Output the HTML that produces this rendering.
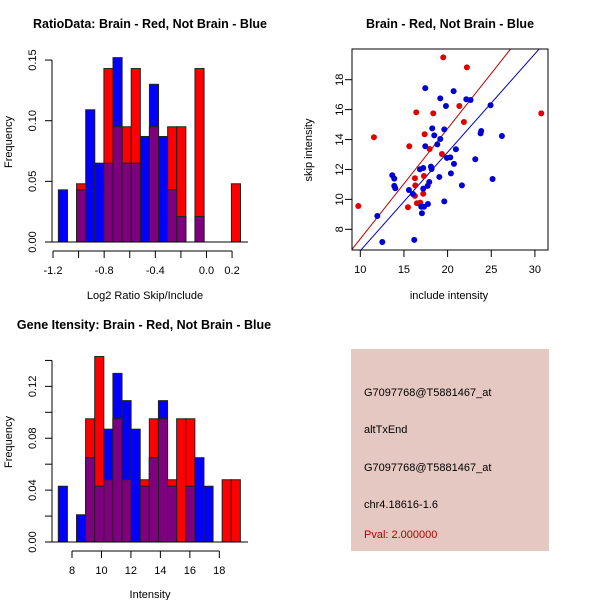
<!DOCTYPE html>
<html><head><meta charset="utf-8"><style>
body{margin:0;background:#fff}
svg{display:block;font-family:"Liberation Sans",Arial,sans-serif}
</style></head><body>
<svg id="c" width="600" height="600" xmlns="http://www.w3.org/2000/svg">
<rect width="600" height="600" fill="#fff"/>
<text x="150" y="28" font-size="12.5" font-weight="bold" text-anchor="middle">RatioData: Brain - Red, Not Brain - Blue</text>
<text x="450" y="28" font-size="12.5" font-weight="bold" text-anchor="middle">Brain - Red, Not Brain - Blue</text>
<text x="144" y="329" font-size="12.5" font-weight="bold" text-anchor="middle">Gene Itensity: Brain - Red, Not Brain - Blue</text>
<text x="145" y="299" font-size="11" text-anchor="middle">Log2 Ratio Skip/Include</text>
<text x="150" y="598" font-size="11" text-anchor="middle">Intensity</text>
<text x="449" y="299" font-size="11" text-anchor="middle">include intensity</text>
<text transform="translate(12,142) rotate(-90)" font-size="11" text-anchor="middle">Frequency</text>
<text transform="translate(12,442) rotate(-90)" font-size="11" text-anchor="middle">Frequency</text>
<text transform="translate(312,150) rotate(-90)" font-size="11" text-anchor="middle">skip intensity</text>
<g>
<rect x="351" y="349" width="198" height="202" fill="#E6C8C2"/>
<text x="364" y="396" font-size="11">G7097768@T5881467_at</text>
<text x="364" y="433" font-size="11">altTxEnd</text>
<text x="364" y="471" font-size="11">G7097768@T5881467_at</text>
<text x="364" y="508" font-size="11">chr4.18616-1.6</text>
<text x="364" y="538" font-size="11" fill="#B00000">Pval: 2.000000</text>
</g>
</svg>
<script>
// Ratio histogram data
const ratioBinStart = -1.158;
const ratioBinWidth = 0.0712;
const ratioRed  = [0,0,0.048,0,0,0.143,0.095,0.095,0.143,0,0.095,0,0.095,0.095,0,0.143,0,0,0,0.048];
const ratioBlue = [0.043,0,0.043,0.109,0.065,0.065,0.152,0.065,0.065,0.087,0.130,0.087,0.043,0.021,0,0.021,0,0,0,0];
const ratioXTicks = [-1.2,-1.0,-0.8,-0.6,-0.4,-0.2,0.0,0.2];
const ratioXLabels = ["-1.2","","-0.8","","-0.4","","0.0","0.2"];
const ratioYTicks = [0,0.05,0.10,0.15];
const ratioYLabels = ["0.00","0.05","0.10","0.15"];
// Intensity histogram data
const intBinStart = 7.07;
const intBinWidth = 0.618;
const intRed  = [0,0,0,0.095,0.143,0.048,0.095,0.048,0,0.048,0.095,0.095,0.048,0.095,0.095,0,0,0,0.048,0.048];
const intBlue = [0.043,0,0.021,0.065,0.043,0.087,0.130,0.109,0.087,0.043,0.065,0.109,0.043,0,0.043,0.065,0.043,0,0,0];
const intXTicks = [8,10,12,14,16,18];
const intYTicks = [0,0.02,0.04,0.06,0.08,0.10,0.12,0.14];
const intYLabels = ["0.00","","0.04","","0.08","","0.12",""];
// Scatter data
const redX = [9.77,11.56,16.41,17.37,15.61,17.94,18.36,19.50,22.21,21.34,21.87,19.35,16.30,16.26,17.29,17.21,16.49,16.87,15.46,30.73,16.26];
const redY = [9.56,14.15,15.82,14.35,13.55,13.37,15.75,19.49,18.82,16.24,15.17,13.03,10.94,11.41,11.56,10.38,9.74,9.78,9.47,15.75,10.23];
const blueX = [11.95,12.52,16.18,17.44,20.69,19.16,19.81,22.14,22.63,24.92,26.22,23.78,23.85,18.24,19.62,18.47,19.16,18.82,17.44,20.95,20.31,19.92,23.17,20.73,20.38,19.05,18.09,18.17,17.21,16.83,13.66,13.89,13.89,14.01,15.57,16.03,17.21,17.90,17.71,25.15,21.64,19.62,17.75,16.98,17.29,17.06];
const blueY = [8.89,7.15,7.29,17.44,17.24,16.75,16.24,16.69,16.64,16.29,14.24,14.41,14.57,14.75,14.68,14.28,14.04,13.68,13.55,13.35,12.81,12.77,12.68,12.37,11.74,11.50,12.19,12.03,12.10,12.01,11.61,11.39,10.90,10.74,10.63,10.36,10.72,11.16,10.90,11.36,10.94,9.87,9.69,9.51,9.51,9.07];
const redLine = [-0.01,0.737];
const blueLine = [-0.01,0.658];
const scXTicks = [10,15,20,25,30];
const scYTicks = [8,10,12,14,16,18];

const NS="http://www.w3.org/2000/svg";
const svg=document.getElementById('c');
function mk(tag,attrs,parent){const e=document.createElementNS(NS,tag);for(const k in attrs)e.setAttribute(k,attrs[k]);(parent||svg).appendChild(e);return e;}

function hist(opts){
  const g=mk('g',{});
  
  
  const X=v=>opts.x0px+(v-opts.x0)*opts.xs;
  const Y=v=>opts.base-v*opts.ys;
  const draw=(vals,col,nm)=>{vals.forEach((v,i)=>{if(v<=0)return;
    const a=X(opts.start+i*opts.w),b=X(opts.start+(i+1)*opts.w);
    const r=mk('rect',{x:a,y:Y(v),width:b-a,height:Y(0)-Y(v),fill:col,stroke:'#222','stroke-width':1},g);
    
    
  });};
  draw(opts.blue,'#0000FF','blue');
  draw(opts.red,'#FF0000','red');
  draw(opts.blue.map((b,i)=>Math.min(b,opts.red[i])),'#7F007F','overlap');
  const ax=mk('g',{stroke:'#000','stroke-width':1,fill:'none'},g);
  
  
  const xt=opts.xticks;
  mk('line',{x1:X(xt[0]),x2:X(xt[xt.length-1]),y1:opts.axY,y2:opts.axY},ax);
  xt.forEach((t,i)=>{mk('line',{x1:X(t),x2:X(t),y1:opts.axY,y2:opts.axY+7},ax);
    const lab=opts.xlabels[i]; if(lab){const tx=mk('text',{x:X(t),y:opts.axY+23,'font-size':11,'text-anchor':'middle',stroke:'none',fill:'#000'},g);tx.textContent=lab;
    
    }});
  const ay=mk('g',{stroke:'#000','stroke-width':1},g);
  
  
  const yt=opts.yticks;
  mk('line',{x1:52,x2:52,y1:Y(yt[0]),y2:Y(yt[yt.length-1])},ay);
  yt.forEach((t,i)=>{mk('line',{x1:45,x2:52,y1:Y(t),y2:Y(t)},ay);
    const lab=opts.ylabels[i]; if(lab){const tx=mk('text',{transform:`translate(36,${Y(t)}) rotate(-90)`,'font-size':11,'text-anchor':'middle'},g);tx.textContent=lab;
    
    }});
  mk('line',{x1:51,x2:248,y1:opts.base,y2:opts.base,stroke:'#000'},g);
}
hist({name:'ratio-histogram',x0:-1.2,x0px:53,xs:127.9,base:242,ys:1213,start:ratioBinStart,w:ratioBinWidth,red:ratioRed,blue:ratioBlue,
  xticks:ratioXTicks,xlabels:ratioXLabels,yticks:ratioYTicks,ylabels:ratioYLabels,axY:251});
hist({name:'intensity-histogram',x0:8,x0px:72,xs:14.73,base:542,ys:1297,start:intBinStart,w:intBinWidth,red:intRed,blue:intBlue,
  xticks:intXTicks,xlabels:intXTicks.map(String),yticks:intYTicks,ylabels:intYLabels,axY:551});

(function(){
  const g=mk('g',{});
  
  
  const L=352,R=548,T=49,B=250;
  const X=v=>360.3+(v-10)*8.73, Y=v=>229.3-(v-8)*14.96;
  const cp=mk('clipPath',{id:'sc'},g); mk('rect',{x:L,y:T,width:R-L,height:B-T},cp);
  const ln=(p,col,nm)=>{const x1=5,x2=35;const l=mk('line',{x1:X(x1),y1:Y(p[0]+p[1]*x1),x2:X(x2),y2:Y(p[0]+p[1]*x2),stroke:col,'stroke-width':1,'clip-path':'url(#sc)'},g);
    
    };
  ln(redLine,'#C00000','red-fit-line');
  ln(blueLine,'#0000C0','blue-fit-line');
  redX.forEach((x,i)=>{const c=mk('circle',{cx:X(x),cy:Y(redY[i]),r:3,fill:'#E00000'},g);
    
    });
  blueX.forEach((x,i)=>{const c=mk('circle',{cx:X(x),cy:Y(blueY[i]),r:3,fill:'#0000D0'},g);
    
    });
  const box=mk('rect',{x:L,y:T,width:R-L,height:B-T,fill:'none',stroke:'#000'},g);
  
  
  scXTicks.forEach(t=>{mk('line',{x1:X(t),x2:X(t),y1:B,y2:B+7,stroke:'#000'},g);
    const tx=mk('text',{x:X(t),y:B+23,'font-size':11,'text-anchor':'middle'},g);tx.textContent=t;
    
    });
  scYTicks.forEach(t=>{mk('line',{x1:L-7,x2:L,y1:Y(t),y2:Y(t),stroke:'#000'},g);
    const tx=mk('text',{transform:`translate(${L-9},${Y(t)}) rotate(-90)`,'font-size':11,'text-anchor':'middle'},g);tx.textContent=t;
    
    });
})();
</script>
</body></html>
